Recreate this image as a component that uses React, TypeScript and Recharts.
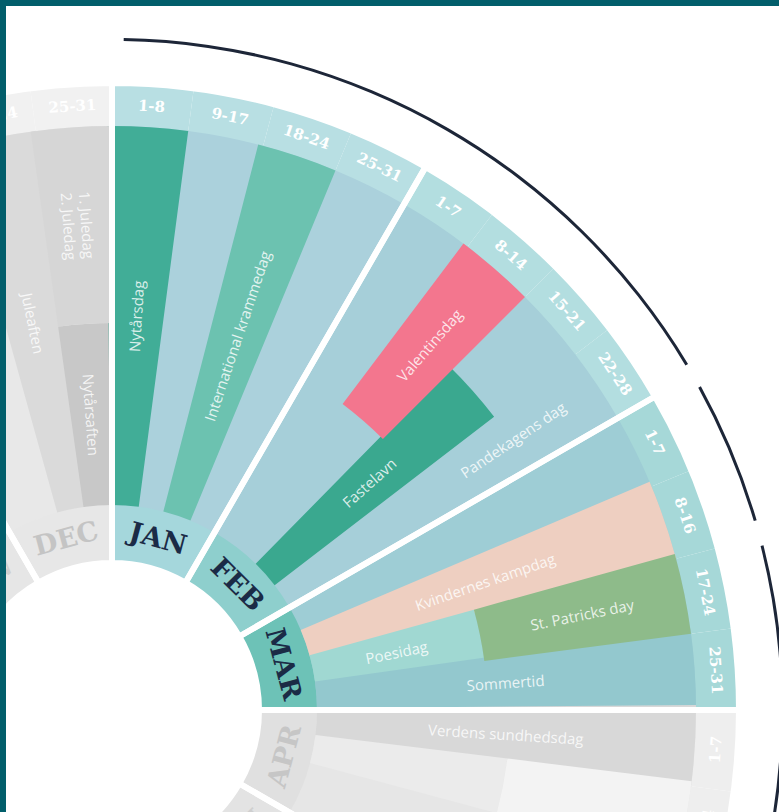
import React from "react";
import {
  PieChart,
  Pie,
  Cell,
  RadialBarChart,
  RadialBar,
  PolarAngleAxis,
  PolarRadiusAxis,
  LabelList,
} from "recharts";

const W = 779;
const H = 812;
const CX = 112;
const CY = 710;
// visible part of the year wheel: NOV (top-left) round to MAJ (bottom)
const START = 150;
const END = -60;
const NO_MARGIN = { top: 0, right: 0, bottom: 0, left: 0 };
const FRAME = "#025e6b";
const RAD = Math.PI / 180;

// months and their week ranges
const MONTHS = ["NOV", "DEC", "JAN", "FEB", "MAR", "APR", "MAJ"];
const WEEKS = [
  ["1-7", "8-14", "15-21", "22-30"],
  ["1-7", "8-16", "17-24", "25-31"],
  ["1-8", "9-17", "18-24", "25-31"],
  ["1-7", "8-14", "15-21", "22-28"],
  ["1-7", "8-16", "17-24", "25-31"],
  ["1-7", "8-14", "15-21", "22-30"],
  ["1-7", "8-14", "15-21", "22-31"],
];

// month colours (bar area / month ring / week ring / month text)
const MONTH_BG = ["#ececec", "#e8e8e8", "#abd1dc", "#a6cfd9", "#9ecdd5", "#e6e6e6", "#ececec"];
const MONTH_RING = ["#e6e6e6", "#e7e7e7", "#a5d7dc", "#8ecfcd", "#6dc2b7", "#e0e0e0", "#e3e3e3"];
const WEEK_RING = ["#f2f2f2", "#f1f1f1", "#b8dfe3", "#b3dee0", "#a6d8d8", "#eeeeee", "#f0f0f0"];
const MONTH_TEXT = ["#cfcfcf", "#c4c4c4", "#1b2b46", "#1b2b46", "#1b2b46", "#c6c6c6", "#cfcfcf"];

// events, one entry per week (NOV 1-7 ... MAJ 22-31); lengths in % of the bar area
const INNER_EVENT = [
  "", "", "", "",
  "", "", "Juleaften", "Nytårsaften",
  "Nytårsdag", "", "International krammedag", "",
  "", "", "Fastelavn", "",
  "", "Kvindernes kampdag", "Poesidag", "Sommertid",
  "Verdens sundhedsdag", "", "", "",
  "", "", "", "",
];
const INNER_LENGTH = [
  0, 0, 0, 0,
  0, 0, 100, 48,
  100, 0, 100, 0,
  0, 47, 73, 47,
  0, 100, 45, 100,
  100, 51, 0, 0,
  0, 0, 0, 0,
];
const INNER_COLOR = [
  "none", "none", "none", "none",
  "none", "none", "#dadada", "#c8c8c8",
  "#41ad97", "none", "#6cc2b0", "none",
  "none", "none", "#3aa88f", "none",
  "none", "#eecfc1", "#a0d8d2", "#93c8ce",
  "#d8d8d8", "#ebebeb", "none", "none",
  "none", "none", "none", "none",
];
const OUTER_EVENT = [
  "", "", "", "",
  "", "", "", "1. Juledag\n2. Juledag",
  "", "", "", "",
  "", "Valentinsdag", "", "Pandekagens dag",
  "", "", "St. Patricks day", "",
  "", "", "", "",
  "", "", "", "",
];
const OUTER_LENGTH = [
  0, 0, 0, 0,
  0, 0, 0, 52,
  0, 0, 0, 0,
  0, 53, 0, 53,
  0, 0, 55, 0,
  0, 49, 0, 0,
  0, 0, 0, 0,
];
const OUTER_COLOR = [
  "none", "none", "none", "none",
  "none", "none", "none", "#d6d6d6",
  "none", "none", "none", "none",
  "none", "#f3768e", "none", "none",
  "none", "none", "#8ebb8a", "none",
  "none", "#f3f3f3", "none", "none",
  "none", "none", "none", "none",
];

// outer black arcs, in degrees of the visible wheel (gap / arc alternating)
const ARC_SPANS = [61, 58, 2.2, 12.4, 2.2, 74.2];
const ARC_ON = [false, true, false, true, false, true];

const monthRows = MONTHS.map((m, i) => ({
  name: m,
  span: WEEKS[i].length,
  bg: MONTH_BG[i],
  ring: MONTH_RING[i],
  textColor: MONTH_TEXT[i],
}));

const weekRows = WEEKS.flatMap((weeks, m) =>
  weeks.map((w) => ({ id: `${MONTHS[m]} ${w}`, name: w, span: 1, ring: WEEK_RING[m] }))
);

const barRows = weekRows.map((w, i) => ({
  id: w.id,
  inner: INNER_LENGTH[i],
  outer: OUTER_LENGTH[i],
  innerLabel: INNER_EVENT[i],
  outerLabel: OUTER_EVENT[i],
}));

const arcRows = ARC_SPANS.map((s, i) => ({ span: s, on: ARC_ON[i] }));

// recharts shifts band ticks on a clockwise angle axis by one band, so compensate
const BAND = (START - END) / weekRows.length;

function point(cx: number, cy: number, r: number, angle: number) {
  return { x: cx + r * Math.cos(-angle * RAD), y: cy + r * Math.sin(-angle * RAD) };
}

// tangential text for the month and week rings
function ringLabel(radius: number, size: number, colorKey?: string) {
  return (props: any) => {
    const { cx, cy, midAngle, index } = props;
    const entry = props.payload ?? props;
    const { x, y } = point(cx, cy, radius, midAngle);
    const rot = midAngle >= 0 ? 90 - midAngle : -90 - midAngle;
    return (
      <text
        key={`rl-${index}`}
        x={x}
        y={y}
        transform={`rotate(${rot} ${x} ${y})`}
        textAnchor="middle"
        dominantBaseline="central"
        fontFamily="'DejaVu Serif', serif"
        fontWeight="bold"
        fontSize={size}
        fill={colorKey ? entry[colorKey] : "#ffffff"}
      >
        {entry.name}
      </text>
    );
  };
}

// radial text along the event bars
function BarLabel(props: any) {
  const { viewBox, value } = props;
  if (!value || !viewBox) return null;
  const { cx, cy, innerRadius, outerRadius, startAngle, endAngle } = viewBox;
  const mid = (startAngle + endAngle) / 2;
  const { x, y } = point(cx, cy, (innerRadius + outerRadius) / 2, mid);
  const rot = mid > 90 ? 180 - mid : -mid;
  const lines = String(value).split("\n");
  return (
    <text
      x={x}
      y={y}
      transform={`rotate(${rot} ${x} ${y})`}
      textAnchor="middle"
      dominantBaseline="central"
      fontFamily="'Open Sans', sans-serif"
      fontSize={15}
      fill="#ffffff"
      fillOpacity={0.82}
    >
      {lines.map((l, i) => (
        <tspan key={i} x={x} dy={i === 0 ? `${-(lines.length - 1) * 0.6}em` : "1.2em"}>
          {l}
        </tspan>
      ))}
    </text>
  );
}

const layer: React.CSSProperties = { position: "absolute", left: 0, top: 0 };

export default function App() {
  return (
    <div
      style={{
        position: "absolute",
        left: 0,
        top: 0,
        width: W,
        height: H,
        overflow: "hidden",
        background: "#ffffff",
      }}
    >
      {/* rings: bar area background, month ring, week ring, outer arcs */}
      <div style={layer}>
        <PieChart width={W} height={H} margin={NO_MARGIN}>
          <Pie
            data={monthRows}
            dataKey="span"
            cx={CX}
            cy={CY}
            innerRadius={204}
            outerRadius={585}
            startAngle={START}
            endAngle={END}
            stroke="none"
            isAnimationActive={false}
          >
            {monthRows.map((m, i) => (
              <Cell key={i} fill={m.bg} />
            ))}
          </Pie>
          <Pie
            data={monthRows}
            dataKey="span"
            cx={CX}
            cy={CY}
            innerRadius={147}
            outerRadius={205}
            startAngle={START}
            endAngle={END}
            stroke="none"
            label={ringLabel(178, 27, "textColor")}
            labelLine={false}
            isAnimationActive={false}
          >
            {monthRows.map((m, i) => (
              <Cell key={i} fill={m.ring} />
            ))}
          </Pie>
          <Pie
            data={weekRows}
            dataKey="span"
            cx={CX}
            cy={CY}
            innerRadius={584}
            outerRadius={626}
            startAngle={START}
            endAngle={END}
            stroke="none"
            label={ringLabel(605, 15)}
            labelLine={false}
            isAnimationActive={false}
          >
            {weekRows.map((w, i) => (
              <Cell key={i} fill={w.ring} />
            ))}
          </Pie>
          <Pie
            data={arcRows}
            dataKey="span"
            cx={CX}
            cy={CY}
            innerRadius={669}
            outerRadius={672}
            startAngle={START}
            endAngle={END}
            stroke="none"
            isAnimationActive={false}
          >
            {arcRows.map((a, i) => (
              <Cell key={i} fill={a.on ? "#1d2638" : "none"} />
            ))}
          </Pie>
        </PieChart>
      </div>

      {/* event bars */}
      <div style={layer}>
        <RadialBarChart
          width={W}
          height={H}
          margin={NO_MARGIN}
          layout="centric"
          cx={CX}
          cy={CY}
          innerRadius={205}
          outerRadius={584}
          startAngle={START - BAND}
          endAngle={END - BAND}
          data={barRows}
          barCategoryGap={0}
          barGap={0}
        >
          <PolarAngleAxis
            type="category"
            dataKey="id"
            scale="band"
            axisLine={false}
            tick={false}
            tickLine={false}
          />
          <PolarRadiusAxis type="number" domain={[0, 100]} axisLine={false} tick={false} tickLine={false} />
          <RadialBar dataKey="inner" stackId="ev" isAnimationActive={false}>
            {barRows.map((_, i) => (
              <Cell key={i} fill={INNER_COLOR[i]} />
            ))}
            <LabelList dataKey="innerLabel" content={BarLabel} />
          </RadialBar>
          <RadialBar dataKey="outer" stackId="ev" isAnimationActive={false}>
            {barRows.map((_, i) => (
              <Cell key={i} fill={OUTER_COLOR[i]} />
            ))}
            <LabelList dataKey="outerLabel" content={BarLabel} />
          </RadialBar>
        </RadialBarChart>
      </div>

      {/* white month separators */}
      <div style={layer}>
        <PieChart width={W} height={H} margin={NO_MARGIN}>
          <Pie
            data={monthRows}
            dataKey="span"
            cx={CX}
            cy={CY}
            innerRadius={147}
            outerRadius={627}
            startAngle={START}
            endAngle={END}
            fill="none"
            stroke="#ffffff"
            strokeWidth={6}
            isAnimationActive={false}
          >
            {monthRows.map((_, i) => (
              <Cell key={i} fill="none" stroke="#ffffff" strokeWidth={6} />
            ))}
          </Pie>
        </PieChart>
      </div>

      <div style={{ position: "absolute", left: 0, top: 0, width: W, height: 6, background: FRAME }} />
      <div style={{ position: "absolute", left: 0, top: 0, width: 6, height: H, background: FRAME }} />
    </div>
  );
}
